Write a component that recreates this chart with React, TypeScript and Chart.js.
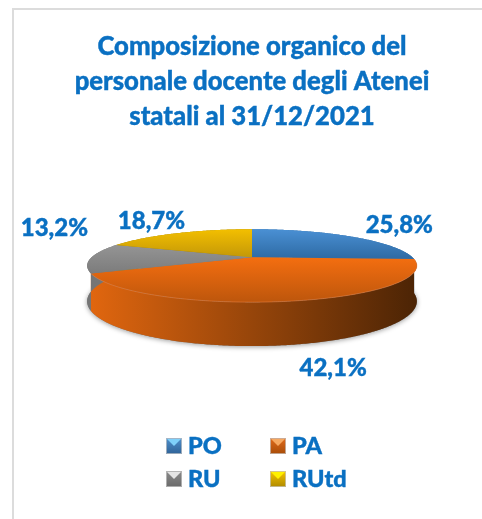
import React, { useEffect, useRef } from "react";
import { Chart, registerables } from "chart.js";

Chart.register(...registerables);

const categories = ["PO", "PA", "RU", "RUtd"];
const values = [25.8, 42.1, 13.2, 18.7];
const titleLines = ["Composizione organico del", "personale docente degli Atenei", "statali al 31/12/2021"];
const baseColors = ["#3f80c0", "#e0640f", "#8f8f8f", "#e0ad04"];

const TEXT = "#0a70c2";
const FONT = "Lato";
const K = 0.233;
const SQUASH = 34.5;
const DEPTH = 33.7;
const TITLE_SIZE = 25.7;
const TITLE_LEADING = 1.36;
const TITLE_TOP = 29;

const topGrad = [["#4a90d4", "#2f6ca6"], ["#f46e10", "#bd560c"], ["#a2a2a2", "#7c7c7c"], ["#f3bf00", "#c49808"]];
const sideGrad = [["#2f6ca6", "#2f6ca6"], ["#e0660f", "#4c2405"], ["#757575", "#7a7a7a"], ["#a08000", "#a08000"]];
const labelOffsets = [[47, -11.5], [41.5, 67], [-36.5, -30], [-26, -12]];
const legendBox = [
  ["#4f8fcb", "#2f6398", "#7fd0fa"],
  ["#e06a1a", "#a84c08", "#f6a860"],
  ["#8a8a8a", "#6a6a6a", "#e4e4e4"],
  ["#f5c400", "#b08a00", "#fff000"],
];

function project(el: any, a: number, drop = 0): [number, number] {
  const u = Math.cos(a), v = Math.sin(a), w = 1 - K * v;
  return [el.x + (el.outerRadius * u) / w, el.y + (SQUASH * v + drop) / w];
}

function tracePoints(ctx: CanvasRenderingContext2D, el: any, from: number, to: number, drop: number, first: boolean) {
  const n = Math.max(4, Math.ceil(Math.abs(to - from) / 0.01));
  for (let i = 0; i <= n; i++) {
    const [x, y] = project(el, from + ((to - from) * i) / n, drop);
    if (first && i === 0) ctx.moveTo(x, y);
    else ctx.lineTo(x, y);
  }
}

const pie3d = {
  id: "pie3d",
  beforeDraw(chart: any) {
    const { ctx, width, height } = chart;
    ctx.save();
    ctx.fillStyle = "#dcdcdc";
    ctx.fillRect(12, 8, width - 12, 2);
    ctx.fillRect(12, 8, 2, height - 8);
    ctx.restore();
  },
  beforeDatasetDraw(chart: any) {
    const { ctx } = chart;
    const arcs = chart.getDatasetMeta(0).data;
    const el0 = arcs[0];
    ctx.save();
    ctx.save();
    ctx.shadowColor = "rgba(0,0,0,0.4)";
    ctx.shadowBlur = 5;
    ctx.shadowOffsetY = 1;
    ctx.beginPath();
    tracePoints(ctx, el0, 0, Math.PI * 2, DEPTH, true);
    ctx.closePath();
    ctx.fillStyle = "#777";
    ctx.fill();
    ctx.restore();
    arcs.forEach((el: any, i: number) => {
      const g = ctx.createLinearGradient(el.x - el.outerRadius, 0, el.x + el.outerRadius * 1.02, 0);
      g.addColorStop(0, sideGrad[i][0]);
      g.addColorStop(1, sideGrad[i][1]);
      ctx.beginPath();
      tracePoints(ctx, el, el.startAngle, el.endAngle, 0, true);
      tracePoints(ctx, el, el.endAngle, el.startAngle, DEPTH, false);
      ctx.closePath();
      ctx.fillStyle = g;
      ctx.fill();
    });
    arcs.forEach((el: any, i: number) => {
      const yTop = el.y - SQUASH / (1 + K);
      const yBot = el.y + (i === 1 ? SQUASH / (1 - K) : 0);
      const g = ctx.createLinearGradient(0, i === 1 ? el.y : yTop, 0, yBot + (i === 2 ? 16 : 0));
      g.addColorStop(0, topGrad[i][0]);
      g.addColorStop(1, topGrad[i][1]);
      ctx.beginPath();
      ctx.moveTo(el.x, el.y);
      tracePoints(ctx, el, el.startAngle, el.endAngle, 0, false);
      ctx.closePath();
      ctx.fillStyle = g;
      ctx.fill();
      if (i === 1) {
        ctx.beginPath();
        tracePoints(ctx, el, el.startAngle, el.endAngle, 0, true);
        ctx.strokeStyle = "rgba(245,140,80,0.45)";
        ctx.lineWidth = 1;
        ctx.stroke();
      }
    });
    ctx.restore();
    return false;
  },
  afterDatasetsDraw(chart: any) {
    const { ctx } = chart;
    const arcs = chart.getDatasetMeta(0).data;
    const vals = chart.data.datasets[0].data;
    const paint = (t: string, x: number, y: number) => {
      ctx.fillText(t, x, y);
      ctx.strokeText(t, x, y);
    };
    ctx.save();
    ctx.fillStyle = TEXT;
    ctx.strokeStyle = TEXT;
    ctx.lineWidth = 0.4;
    ctx.font = `900 24px ${FONT}`;
    ctx.textAlign = "center";
    ctx.textBaseline = "middle";
    arcs.forEach((el: any, i: number) => {
      const [x, y] = project(el, (el.startAngle + el.endAngle) / 2);
      const txt = vals[i].toFixed(1).replace(".", ",") + "%";
      paint(txt, x + labelOffsets[i][0], y + labelOffsets[i][1]);
    });
    // thicken the library's own title lines a little, in place
    const tb = chart.titleBlock;
    const lead = TITLE_SIZE * TITLE_LEADING;
    ctx.font = `900 ${TITLE_SIZE}px ${FONT}`;
    titleLines.forEach((line, i) => {
      ctx.strokeText(line, arcs[0].x, tb.top + TITLE_TOP + lead * (i + 0.5));
    });
    ctx.textAlign = "left";
    ctx.font = `900 23.5px ${FONT}`;
    chart.data.labels.forEach((lab: string, i: number) => {
      const x = 166 + (i % 2) * 104;
      const y = 438 + Math.floor(i / 2) * 33;
      const s = 16;
      const g = ctx.createLinearGradient(0, y, 0, y + s);
      g.addColorStop(0, legendBox[i][0]);
      g.addColorStop(1, legendBox[i][1]);
      ctx.fillStyle = g;
      ctx.fillRect(x, y, s, s);
      ctx.fillStyle = legendBox[i][2];
      ctx.beginPath();
      ctx.moveTo(x + 1, y + 1);
      ctx.lineTo(x + s - 1, y + 1);
      ctx.lineTo(x + s / 2, y + s / 2);
      ctx.closePath();
      ctx.fill();
      ctx.strokeStyle = "rgba(200,200,200,0.7)";
      ctx.lineWidth = 1;
      ctx.strokeRect(x + 0.5, y + 0.5, s - 1, s - 1);
      ctx.fillStyle = TEXT;
      ctx.strokeStyle = TEXT;
      ctx.lineWidth = 0.4;
      paint(lab, x + s + 6, y + s / 2 + 0.5);
    });
    ctx.restore();
  },
};

export default function App() {
  const ref = useRef<HTMLCanvasElement>(null);
  useEffect(() => {
    const chart = new Chart(ref.current as HTMLCanvasElement, {
      type: "pie",
      data: {
        labels: categories,
        datasets: [{ data: values, backgroundColor: baseColors, borderWidth: 0 }],
      },
      options: {
        animation: false,
        responsive: false,
        devicePixelRatio: 1,
        layout: { padding: { left: 22, right: 0, top: 0, bottom: 101.5 } },
        plugins: {
          legend: { display: false },
          tooltip: { enabled: false },
          title: {
            display: true,
            text: titleLines,
            color: TEXT,
            font: { family: FONT, size: TITLE_SIZE, weight: 900, lineHeight: TITLE_LEADING },
            padding: { top: TITLE_TOP, bottom: -37 },
          },
        },
      },
      plugins: [pie3d],
    } as any);
    return () => chart.destroy();
  }, []);
  return (
    <div style={{ position: "absolute", left: 0, top: 0, width: 482, height: 519 }}>
      <canvas ref={ref} width={482} height={519} style={{ display: "block" }} />
    </div>
  );
}
